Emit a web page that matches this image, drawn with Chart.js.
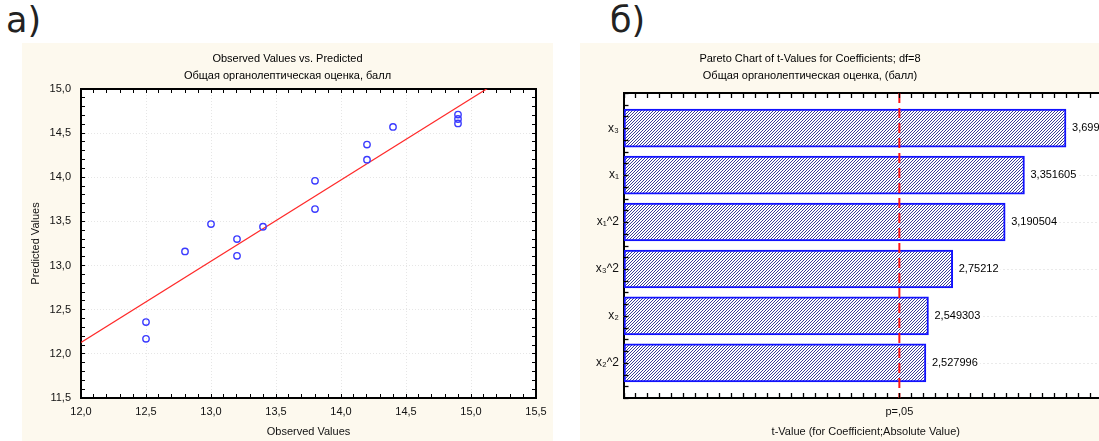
<!DOCTYPE html>
<html>
<head>
<meta charset="utf-8">
<script src="https://cdn.jsdelivr.net/npm/chart.js@4.4.1/dist/chart.umd.min.js"></script>
<style>
html, body { margin: 0; padding: 0; background: #fff; width: 1099px; height: 441px; overflow: hidden; position: relative; font-family: "Liberation Sans", Arial, sans-serif; }
.panel { position: absolute; top: 43px; height: 398px; background: #fdf9ee; }
#panelA { left: 22px; width: 531px; }
#panelB { left: 580px; width: 560px; }
.tag { position: absolute; top: 3px; font-family: "DejaVu Sans", sans-serif; font-size: 35px; line-height: 35px; color: #222; }
.ttl { position: absolute; top: 50px; text-align: center; font-size: 11px; line-height: 17px; color: #000; z-index: 2; }
canvas { position: absolute; left: 0; top: 0; }
</style>
</head>
<body>
<div class="tag" style="left:6px">а)</div>
<div class="tag" style="left:610px">б)</div>

<div class="panel" id="panelA"><canvas id="chartA" width="531" height="398"></canvas></div>
<div class="panel" id="panelB"><canvas id="chartB" width="560" height="398"></canvas></div>

<div class="ttl" style="left:22px;width:531px">Observed Values vs. Predicted<br>Общая органолептическая оценка, балл</div>
<div class="ttl" style="left:580px;width:460px">Pareto Chart of t-Values for Coefficients; df=8<br>Общая органолептическая оценка, (балл)</div>

<script>
// --- chart a: observed vs predicted ---
const observed  = [12.5, 12.5, 12.8, 13.0, 13.2, 13.2, 13.4, 13.8, 13.8, 14.2, 14.2, 14.4, 14.9, 14.9, 14.9];
const predicted = [12.36, 12.17, 13.16, 13.47, 13.30, 13.11, 13.44, 13.96, 13.64, 14.37, 14.20, 14.57, 14.71, 14.66, 14.61];
const fitX = [12.0, 15.5];
const fitY = [12.13, 15.35];
const obsRange = [12.0, 15.5];
const predRange = [11.5, 15.0];

// --- chart b: pareto of t-values ---
const factors = ['x₃', 'x₁', 'x₁^2', 'x₃^2', 'x₂', 'x₂^2'];
const tValues = [3.699, 3.351605, 3.190504, 2.75212, 2.549303, 2.527996];
const pCrit = 2.306;
const pLabel = 'p=,05';
const tRange = [0, 4.05];

const FONT = '"Liberation Sans", Arial, sans-serif';
const font11 = { family: FONT, size: 11 };

const fmt1 = v => v.toFixed(1).replace('.', ',');
const fmtT = v => v.toFixed(6).replace(/0+$/, '').replace(/\.$/, '').replace('.', ',');
const isMajor = v => Math.abs(v * 2 - Math.round(v * 2)) < 1e-6;
const isWhole = v => Math.abs(v - Math.round(v)) < 1e-6;
const tickVal = c => (c.tick ? c.tick.value : NaN);
const noPad = s => { s.paddingLeft = 0; s.paddingRight = 0; s.paddingTop = 0; s.paddingBottom = 0; };

const plotBg = {
    id: 'plotBg',
    beforeDraw(chart) {
        const a = chart.chartArea;
        const ctx = chart.ctx;
        ctx.save();
        ctx.fillStyle = '#ffffff';
        ctx.fillRect(a.left, a.top, a.right - a.left, a.bottom - a.top);
        ctx.restore();
    }
};

// axis that only draws inward tick marks and the frame line
function frameAxis(axis, position, range, step, size) {
    return {
        type: 'linear',
        axis: axis,
        position: position,
        min: range[0],
        max: range[1],
        offset: false,
        afterFit: s => { if (axis === 'x') s.height = size; else s.width = size; noPad(s); },
        border: { color: '#000', width: 2 },
        grid: { offset: false, drawOnChartArea: false, tickColor: '#000', tickLength: -4, tickWidth: 1 },
        ticks: { display: false, stepSize: step, autoSkip: false, maxTicksLimit: 200 }
    };
}

new Chart(document.getElementById('chartA'), {
    type: 'scatter',
    data: {
        datasets: [
            {
                label: 'Observed vs Predicted',
                data: observed.map((o, i) => ({ x: o, y: predicted[i] })),
                borderColor: '#3b3bff',
                backgroundColor: 'rgba(0,0,0,0)',
                borderWidth: 1.4,
                pointRadius: 3.2,
                order: 0
            },
            {
                type: 'line',
                label: 'fit',
                data: fitX.map((x, i) => ({ x: x, y: fitY[i] })),
                borderColor: '#ff2a2a',
                borderWidth: 1.2,
                pointRadius: 0,
                showLine: true,
                order: 1
            }
        ]
    },
    options: {
        responsive: false,
        animation: false,
        layout: { padding: { top: 46, right: 17, left: 0, bottom: 0 } },
        plugins: { legend: { display: false }, tooltip: { enabled: false } },
        scales: {
            x: {
                type: 'linear',
                position: 'bottom',
                min: obsRange[0],
                max: obsRange[1],
                afterFit: s => { s.height = 43; noPad(s); },
                border: { color: '#000', width: 2, dash: [1, 2] },
                grid: {
                    color: c => isMajor(tickVal(c)) ? '#e6e6e6' : 'rgba(0,0,0,0)',
                    tickColor: '#000', tickLength: -4, tickWidth: 1
                },
                ticks: {
                    stepSize: 0.1, autoSkip: false, maxTicksLimit: 200, maxRotation: 0,
                    padding: 11, color: '#111', font: font11,
                    callback: v => isMajor(v) ? fmt1(v) : ''
                },
                title: { display: true, text: 'Observed Values', color: '#111', font: font11, padding: { top: 0, bottom: 2 } }
            },
            y: {
                type: 'linear',
                position: 'left',
                min: predRange[0],
                max: predRange[1],
                afterFit: s => { s.width = 59; noPad(s); },
                border: { color: '#000', width: 2, dash: [1, 2] },
                grid: {
                    color: c => isMajor(tickVal(c)) ? '#e6e6e6' : 'rgba(0,0,0,0)',
                    tickColor: '#000', tickLength: -4, tickWidth: 1
                },
                ticks: {
                    stepSize: 0.1, autoSkip: false, maxTicksLimit: 200,
                    padding: 14, color: '#111', font: font11,
                    callback: v => isMajor(v) ? fmt1(v) : ''
                },
                title: { display: true, text: 'Predicted Values', color: '#111', font: font11, padding: { top: 7, bottom: 0 } }
            },
            x2: frameAxis('x', 'top', obsRange, 0.1, 0),
            y2: frameAxis('y', 'right', predRange, 0.1, 0)
        }
    },
    plugins: [plotBg]
});

// hatched fill for the bars
function makeHatch(ctx) {
    const c = document.createElement('canvas');
    c.width = 3; c.height = 3;
    const g = c.getContext('2d');
    g.fillStyle = '#ffffff';
    g.fillRect(0, 0, 3, 3);
    g.strokeStyle = '#3c3f96';
    g.lineWidth = 1;
    g.beginPath();
    g.moveTo(0, 3); g.lineTo(3, 0);
    g.moveTo(-1, 1); g.lineTo(1, -1);
    g.moveTo(2, 4); g.lineTo(4, 2);
    g.stroke();
    return ctx.createPattern(c, 'repeat');
}

// dotted guide lines at the bar centres, behind the bars
const barGuides = {
    id: 'barGuides',
    beforeDatasetsDraw(chart) {
        const a = chart.chartArea;
        const y = chart.scales.y;
        const ctx = chart.ctx;
        ctx.save();
        ctx.strokeStyle = '#d4d4d4';
        ctx.lineWidth = 1;
        ctx.setLineDash([1, 3]);
        factors.forEach((f, i) => {
            const py = Math.round(y.getPixelForValue(i)) + 0.5;
            ctx.beginPath();
            ctx.moveTo(a.left, py);
            ctx.lineTo(a.right, py);
            ctx.stroke();
        });
        ctx.restore();
    }
};

// inward tick marks taken from each scale's own ticks
const innerTicks = {
    id: 'innerTicks',
    afterDraw(chart) {
        const a = chart.chartArea;
        const ctx = chart.ctx;
        ctx.save();
        ctx.setLineDash([]);
        ctx.strokeStyle = '#000';
        ctx.lineWidth = 1.3;
        ['x', 'x2', 'y'].forEach(id => {
            const s = chart.scales[id];
            s.ticks.forEach(t => {
                if (Math.abs(t.value - pCrit) < 1e-9) return;
                const p = Math.round(s.getPixelForValue(t.value)) + 0.5;
                ctx.beginPath();
                if (id === 'x') { ctx.moveTo(p, a.bottom); ctx.lineTo(p, a.bottom - 5); }
                else if (id === 'x2') { ctx.moveTo(p, a.top); ctx.lineTo(p, a.top + 5); }
                else { ctx.moveTo(a.left, p); ctx.lineTo(a.left + 5, p); }
                ctx.stroke();
            });
        });
        ctx.restore();
    }
};

const valueLabels = {
    id: 'valueLabels',
    afterDatasetsDraw(chart) {
        const meta = chart.getDatasetMeta(1);
        const ctx = chart.ctx;
        ctx.save();
        ctx.font = '11px ' + FONT;
        ctx.textBaseline = 'middle';
        ctx.textAlign = 'left';
        meta.data.forEach((bar, i) => {
            const txt = fmtT(tValues[i]);
            const w = ctx.measureText(txt).width;
            ctx.fillStyle = '#fff';
            ctx.fillRect(bar.x + 3, bar.y - 7, w + 5, 14);
            ctx.fillStyle = '#000';
            ctx.fillText(txt, bar.x + 6, bar.y);
        });
        ctx.restore();
    }
};

const canvasB = document.getElementById('chartB');

new Chart(canvasB, {
    type: 'bar',
    data: {
        datasets: [
            {
                type: 'line',
                label: 'p=.05',
                data: [{ x: pCrit, y: -0.75 }, { x: pCrit, y: factors.length - 0.25 }],
                borderColor: '#ff1414',
                borderWidth: 2,
                borderDash: [10, 5],
                pointRadius: 0,
                fill: false,
                order: 0
            },
            {
                label: 't-Value',
                data: factors.map((f, i) => ({ x: tValues[i], y: i })),
                backgroundColor: makeHatch(canvasB.getContext('2d')),
                borderColor: '#1212ff',
                borderWidth: 2,
                borderSkipped: false,
                barThickness: 38,
                order: 1
            }
        ]
    },
    options: {
        indexAxis: 'y',
        responsive: false,
        animation: false,
        layout: { padding: { top: 50, right: 32, left: 0, bottom: 0 } },
        plugins: { legend: { display: false }, tooltip: { enabled: false } },
        scales: {
            x: {
                type: 'linear',
                position: 'bottom',
                min: tRange[0],
                max: tRange[1],
                offset: false,
                afterFit: s => { s.height = 43; noPad(s); },
                afterBuildTicks: s => {
                    s.ticks.push({ value: pCrit });
                    s.ticks.sort((a, b) => a.value - b.value);
                },
                border: { color: '#000', width: 2 },
                grid: { offset: false, drawOnChartArea: false, drawTicks: false },
                ticks: {
                    stepSize: 0.1, autoSkip: false, maxTicksLimit: 200, maxRotation: 0,
                    padding: 7, color: '#111', font: font11,
                    callback: v => Math.abs(v - pCrit) < 1e-9 ? pLabel : ''
                },
                title: { display: true, text: 't-Value (for Coefficient;Absolute Value)', color: '#111', font: font11, padding: { top: 0, bottom: 2 } }
            },
            y: {
                type: 'linear',
                position: 'left',
                reverse: true,
                min: -0.75,
                max: factors.length - 0.25,
                offset: false,
                afterFit: s => { s.width = 43.5; noPad(s); },
                border: { color: '#000', width: 2 },
                grid: { offset: false, drawOnChartArea: false, drawTicks: false },
                ticks: {
                    stepSize: 0.25, autoSkip: false, maxTicksLimit: 200,
                    padding: 4.5, color: '#111', font: { family: FONT, size: 12 },
                    callback: v => isWhole(v) && factors[Math.round(v)] !== undefined ? factors[Math.round(v)] : ''
                }
            },
            x2: {
                type: 'linear',
                axis: 'x',
                position: 'top',
                min: tRange[0],
                max: tRange[1],
                offset: false,
                afterFit: s => { s.height = 0; noPad(s); },
                border: { color: '#000', width: 2 },
                grid: { offset: false, drawOnChartArea: false, drawTicks: false },
                ticks: { display: false, stepSize: 0.1, autoSkip: false, maxTicksLimit: 200 }
            }
        }
    },
    plugins: [plotBg, barGuides, valueLabels, innerTicks]
});
</script>
</body>
</html>
